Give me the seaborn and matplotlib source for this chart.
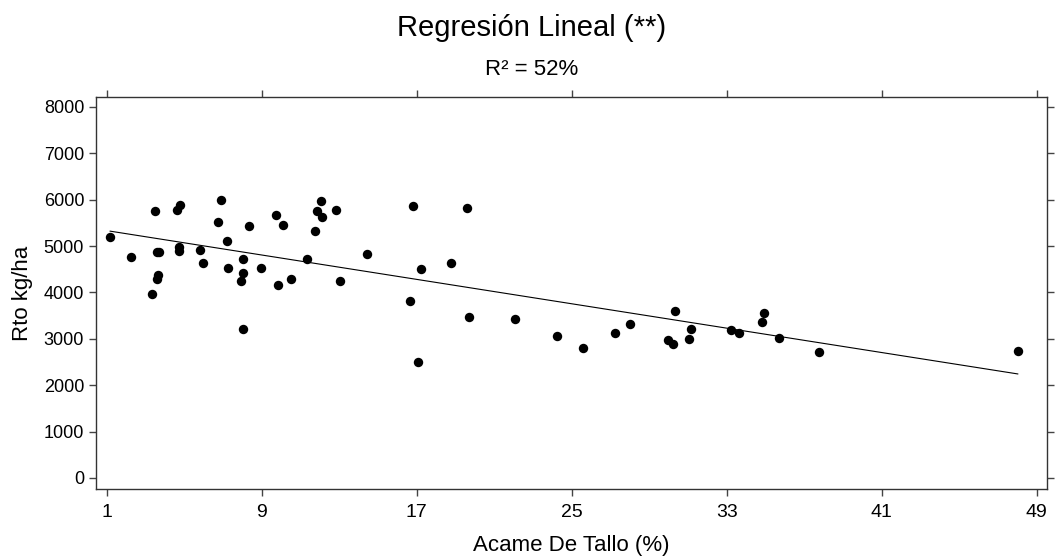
import seaborn as sns
import pandas as pd
import matplotlib.pyplot as plt

sns.set_theme(style="ticks")
plt.rcParams['font.family'] = ['Liberation Sans', 'DejaVu Sans']
plt.rcParams['text.color'] = 'black'
plt.rcParams['axes.labelcolor'] = 'black'
plt.rcParams['xtick.labelcolor'] = 'black'
plt.rcParams['ytick.labelcolor'] = 'black'

# Acame de tallo (%) vs rendimiento (kg/ha)
acame = [1.17, 2.27, 3.49, 3.34, 3.58, 3.71, 3.65, 3.58, 4.61, 4.78,
         4.72, 4.72, 5.83, 5.97, 6.90, 6.76, 7.19, 7.25, 8.02, 8.02,
         7.93, 8.02, 8.33, 8.96, 9.72, 10.12, 9.86, 10.53, 11.34, 12.05,
         11.87, 12.13, 11.75, 12.82, 13.03, 14.43, 16.82, 17.22, 16.67, 17.05,
         18.77, 19.58, 19.70, 22.06, 24.26, 25.58, 27.25, 28.02, 30.33, 29.95,
         30.21, 31.14, 31.05, 33.24, 33.62, 34.91, 34.84, 35.71, 37.78, 48.03]
rto = [5203, 4759, 5750, 3967, 4879, 4879, 4370, 4284, 5785, 5893,
       4987, 4901, 4916, 4643, 5987, 5513, 5117, 4534, 4715, 4413,
       4241, 3219, 5427, 4534, 5677, 5462, 4168, 4297, 4728, 5966,
       5750, 5621, 5333, 5772, 4241, 4823, 5858, 4500, 3823, 2495,
       4643, 5828, 3478, 3422, 3055, 2796, 3133, 3314, 3601, 2975,
       2889, 3206, 2997, 3184, 3133, 3551, 3364, 3025, 2717, 2732]

x_ticks = [1, 9, 17, 25, 33, 41, 49]
y_ticks = [0, 1000, 2000, 3000, 4000, 5000, 6000, 7000, 8000]

df = pd.DataFrame({"acame": acame, "rto": rto})

fig = plt.figure(figsize=(10.56, 5.58), dpi=100)
ax = fig.add_axes([0.0909, 0.1237, 0.9006, 0.7025])

sns.regplot(data=df, x="acame", y="rto", ci=None, ax=ax,
            scatter_kws={"s": 46, "color": "black", "linewidths": 0, "alpha": 1},
            line_kws={"color": "black", "linewidth": 0.8})

ax.set_xlim(0.45, 49.53)
ax.set_ylim(-237, 8216)
ax.set_xticks(x_ticks)
ax.set_yticks(y_ticks)
ax.tick_params(direction="out", length=5, width=1, color="#444444",
               top=True, right=True, labelsize=13)
ax.tick_params(axis="x", labelsize=14, pad=6)
for sp in ax.spines.values():
    sp.set_visible(True)
    sp.set_color("#333333")
    sp.set_linewidth(1)

ax.set_xlabel("Acame De Tallo (%)", fontsize=16, labelpad=10)
ax.set_ylabel("Rto kg/ha", fontsize=16, labelpad=8)

fig.text(0.503, 0.950, "Regresión Lineal (**)", ha="center", va="center", fontsize=21)
fig.text(0.503, 0.876, "R² = 52%", ha="center", va="center", fontsize=16)

fig.savefig("out.png", dpi=100)
